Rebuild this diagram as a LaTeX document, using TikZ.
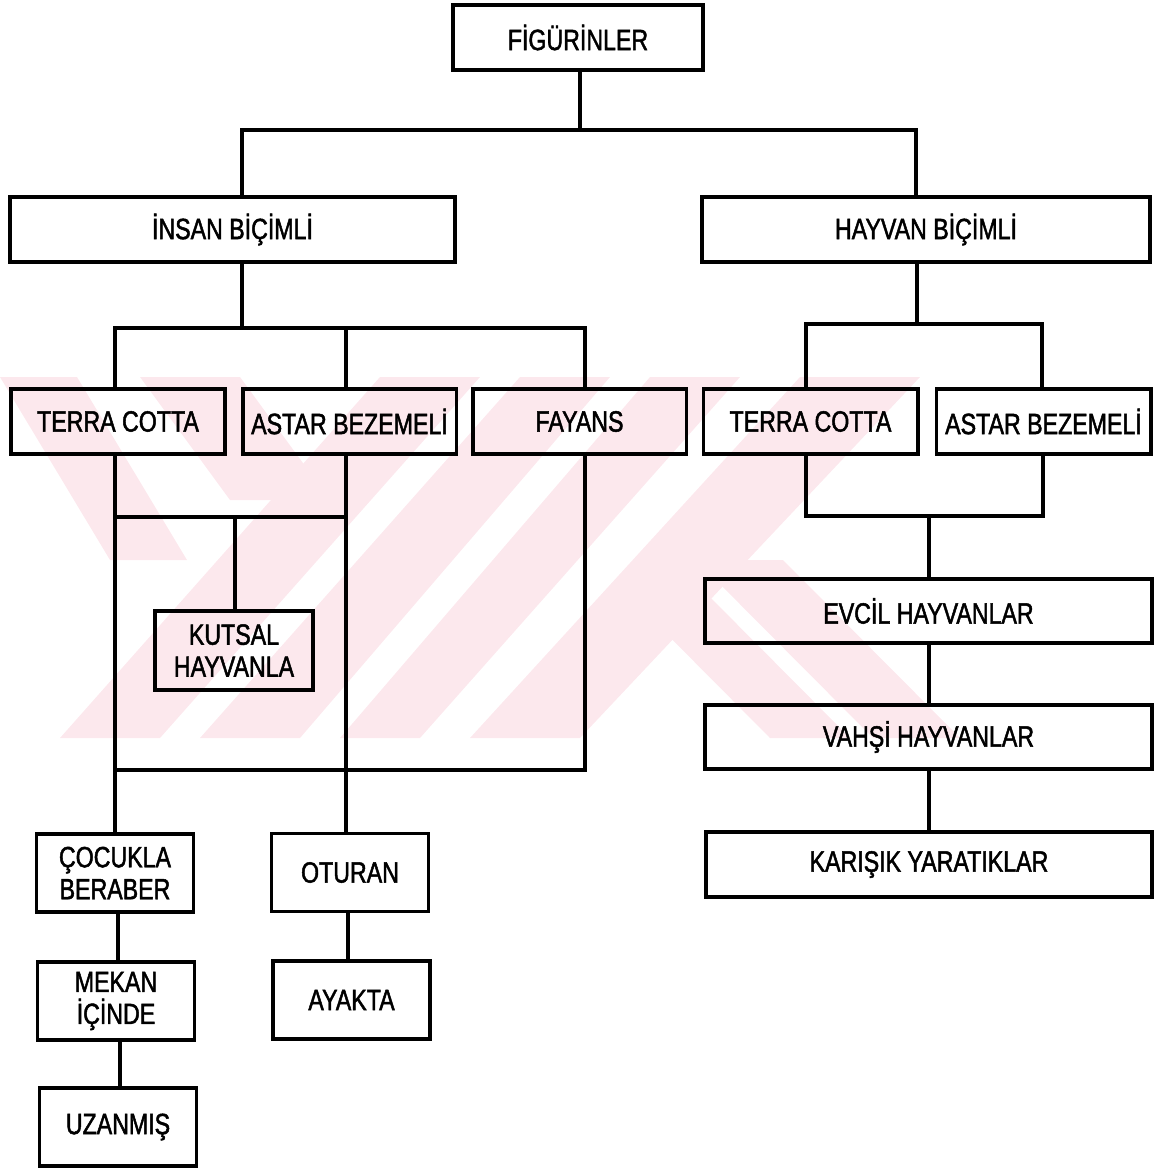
\documentclass[tikz,border=0pt]{standalone}
\usepackage{fontspec}
\setmainfont{Liberation Sans}[FakeStretch=0.79, FakeBold=1.6]
\begin{document}
\begin{tikzpicture}[x=0.75pt,y=-0.75pt,
  box/.style={draw, line width=2.5pt, inner sep=0pt, align=center,
    font=\fontsize{22}{24}\selectfont},
  wide/.style={box, minimum width=#1, minimum height=48.75pt},
  small/.style={box, minimum width=117.75pt, minimum height=58.5pt},
  link/.style={line width=2.5pt, line cap=rect},
  wm/.style={fill=wmpink, draw=none}]
\definecolor{wmpink}{RGB}{252,232,237}
\useasboundingbox (0,0) rectangle (1156,1168);

% faint background emblem
\begin{scope}
  \clip (0,377) rectangle (1000,738);
  % rising bands
  \fill[wm] (60,738) -- (160,738) -- (480,377) -- (380,377) -- cycle;
  \fill[wm] (200,738) -- (300,738) -- (610,377) -- (520,377) -- cycle;
  \fill[wm] (340,738) -- (420,738) -- (740,377) -- (650,377) -- cycle;
  \fill[wm] (470,738) -- (580,738) -- (920,377) -- (800,377) -- cycle;
  % falling bands, upper left
  \fill[wm] (0,377) -- (77,377) -- (187,560) -- (110,560) -- cycle;
  \fill[wm] (140,377) -- (240,377) -- (330,500) -- (230,500) -- cycle;
  % falling bands, lower right
  \fill[wm] (873,738) -- (960,738) -- (783,560) -- (696,560) -- cycle;
  \fill[wm] (770,738) -- (850,738) -- (700,587) -- (620,587) -- cycle;
\end{scope}

% boxes
\node[wide=187.5pt] (fig) at (578,37.5) {FİGÜRİNLER};
\node[wide=333.75pt] (insan) at (232.5,229.5) {İNSAN BİÇİMLİ};
\node[wide=336pt] (hayvan) at (926,229.5) {HAYVAN BİÇİMLİ};

\node[wide=160.5pt] (tc1) at (118,421.5) {TERRA COTTA};
\node[wide=160pt] (ab1) at (349.5,421.5) {ASTAR BEZEMELİ};
\node[wide=160pt] (fay) at (579.5,421.5) {FAYANS};
\node[wide=161pt] (tc2) at (810.5,421.5) {TERRA COTTA};
\node[wide=161pt] (ab2) at (1043.5,421.5) {ASTAR BEZEMELİ};

\node[box, minimum width=118.5pt, minimum height=59.25pt] (kutsal) at (234,650.5) {KUTSAL\\HAYVANLA};

\node[wide=335.25pt, minimum height=48pt] (evcil) at (928.5,611) {EVCİL HAYVANLAR};
\node[wide=335.25pt, minimum height=48pt] (vahsi) at (928.5,737) {VAHŞİ HAYVANLAR};
\node[wide=334.5pt] (karisik) at (929,864.5) {KARIŞIK YARATIKLAR};

\node[small] (cocuk) at (115,873) {ÇOCUKLA\\BERABER};
\node[small] (oturan) at (350,872.5) {OTURAN};
\node[small] (mekan) at (116,1001) {MEKAN\\İÇİNDE};
\node[small] (ayakta) at (351.5,1000) {AYAKTA};
\node[small] (uzanmis) at (118,1127) {UZANMIŞ};

% junction points of the trees
\coordinate (j0) at (580,130);
\coordinate (jl) at (242,130);
\coordinate (jr) at (916,130);
\coordinate (k0) at (242,328);
\coordinate (k1) at (115,328);
\coordinate (k2) at (346,328);
\coordinate (k3) at (585,328);
\coordinate (h0) at (917,324);
\coordinate (h1) at (806,324);
\coordinate (h2) at (1042,324);
\coordinate (m1) at (115,517);
\coordinate (m2) at (346,517);
\coordinate (m3) at (235,517);
\coordinate (f1) at (115,770);
\coordinate (f2) at (585,770);
\coordinate (e1) at (806,516);
\coordinate (e2) at (1043,516);
\coordinate (e3) at (929,516);

% top level
\draw[link] (fig.south -| j0) -- (j0);
\draw[link] (insan.north -| jl) -- (jl) -- (jr) -- (hayvan.north -| jr);

% human-shaped branch
\draw[link] (insan.south -| k0) -- (k0);
\draw[link] (tc1.north -| k1) -- (k1) -- (k3) -- (fay.north -| k3);
\draw[link] (k2) -- (ab1.north -| k2);
\draw[link] (tc1.south -| k1) -- (cocuk.north -| k1);
\draw[link] (ab1.south -| k2) -- (oturan.north -| k2);
\draw[link] (m1) -- (m2);
\draw[link] (m3) -- (kutsal.north -| m3);
\draw[link] (fay.south -| f2) -- (f2) -- (f1);
\draw[link] (cocuk.south -| 118,0) -- (mekan.north -| 118,0);
\draw[link] (mekan.south -| 120,0) -- (uzanmis.north -| 120,0);
\draw[link] (oturan.south -| 348,0) -- (ayakta.north -| 348,0);

% animal-shaped branch
\draw[link] (hayvan.south -| h0) -- (h0);
\draw[link] (tc2.north -| h1) -- (h1) -- (h2) -- (ab2.north -| h2);
\draw[link] (tc2.south -| e1) -- (e1) -- (e2) -- (ab2.south -| e2);
\draw[link] (e3) -- (evcil.north -| e3);
\draw[link] (evcil.south -| e3) -- (vahsi.north -| e3);
\draw[link] (vahsi.south -| e3) -- (karisik.north -| e3);
\end{tikzpicture}
\end{document}
